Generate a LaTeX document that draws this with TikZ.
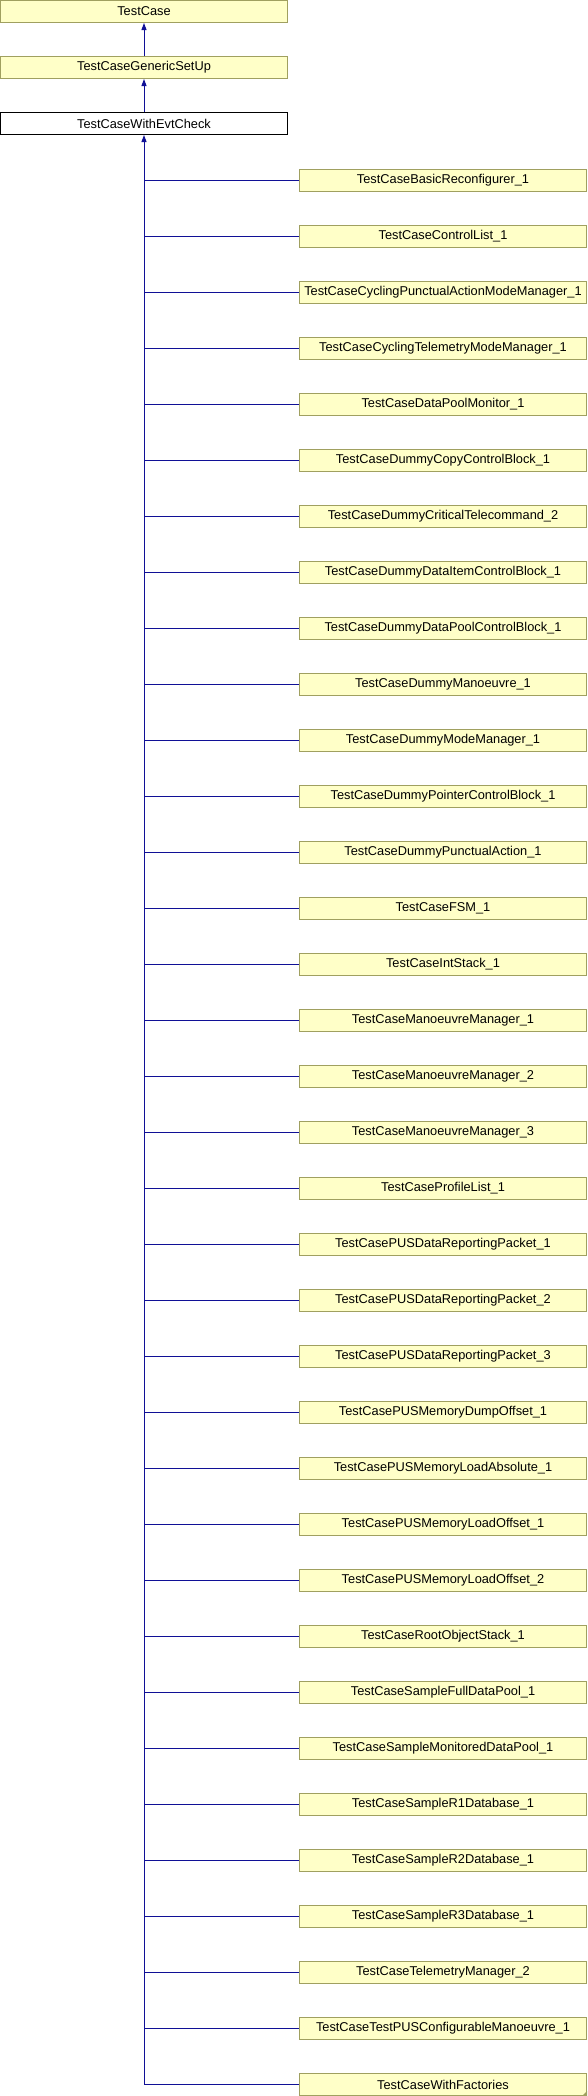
\documentclass[tikz,border=0pt]{standalone}
\usepackage{fontspec}
\setmainfont{Liberation Sans}
\usepackage{tikz}
\usetikzlibrary{arrows.meta}
\definecolor{boxfill}{RGB}{255,255,200}
\definecolor{boxline}{RGB}{160,160,96}
\definecolor{edgeblue}{RGB}{16,16,150}
\tikzset{cls/.style={draw=boxline, fill=boxfill, line width=1pt,
  minimum width=287pt, minimum height=22pt, inner sep=0pt,
  font=\fontsize{12.8}{14}\selectfont}}

\begin{document}
\begin{tikzpicture}[x=1pt, y=-1pt, >={Triangle[length=7pt,width=5pt]},
  edge/.style={draw=edgeblue, line width=1pt},
  cur/.style={cls, draw=black, fill=white}]
  \useasboundingbox (0,0) rectangle (588,2096);
  % base classes
  \node[cls] (tc)  at (144, 11.5)  {TestCase};
  \node[cls] (gsu) at (144, 67.5)  {TestCaseGenericSetUp};
  \node[cur] (evt) at (144, 123.5) {TestCaseWithEvtCheck};
  \draw[edge, ->] (gsu) -- (tc);
  \draw[edge, ->] (evt) -- (gsu);
  % derived classes
  \node[cls] (c1)  at (443, 180.5)  {TestCaseBasicReconfigurer\_1};
  \node[cls] (c2)  at (443, 236.5)  {TestCaseControlList\_1};
  \node[cls] (c3)  at (443, 292.5)  {TestCaseCyclingPunctualActionModeManager\_1};
  \node[cls] (c4)  at (443, 348.5)  {TestCaseCyclingTelemetryModeManager\_1};
  \node[cls] (c5)  at (443, 404.5)  {TestCaseDataPoolMonitor\_1};
  \node[cls] (c6)  at (443, 460.5)  {TestCaseDummyCopyControlBlock\_1};
  \node[cls] (c7)  at (443, 516.5)  {TestCaseDummyCriticalTelecommand\_2};
  \node[cls] (c8)  at (443, 572.5)  {TestCaseDummyDataItemControlBlock\_1};
  \node[cls] (c9)  at (443, 628.5)  {TestCaseDummyDataPoolControlBlock\_1};
  \node[cls] (c10) at (443, 684.5)  {TestCaseDummyManoeuvre\_1};
  \node[cls] (c11) at (443, 740.5)  {TestCaseDummyModeManager\_1};
  \node[cls] (c12) at (443, 796.5)  {TestCaseDummyPointerControlBlock\_1};
  \node[cls] (c13) at (443, 852.5)  {TestCaseDummyPunctualAction\_1};
  \node[cls] (c14) at (443, 908.5)  {TestCaseFSM\_1};
  \node[cls] (c15) at (443, 964.5)  {TestCaseIntStack\_1};
  \node[cls] (c16) at (443, 1020.5) {TestCaseManoeuvreManager\_1};
  \node[cls] (c17) at (443, 1076.5) {TestCaseManoeuvreManager\_2};
  \node[cls] (c18) at (443, 1132.5) {TestCaseManoeuvreManager\_3};
  \node[cls] (c19) at (443, 1188.5) {TestCaseProfileList\_1};
  \node[cls] (c20) at (443, 1244.5) {TestCasePUSDataReportingPacket\_1};
  \node[cls] (c21) at (443, 1300.5) {TestCasePUSDataReportingPacket\_2};
  \node[cls] (c22) at (443, 1356.5) {TestCasePUSDataReportingPacket\_3};
  \node[cls] (c23) at (443, 1412.5) {TestCasePUSMemoryDumpOffset\_1};
  \node[cls] (c24) at (443, 1468.5) {TestCasePUSMemoryLoadAbsolute\_1};
  \node[cls] (c25) at (443, 1524.5) {TestCasePUSMemoryLoadOffset\_1};
  \node[cls] (c26) at (443, 1580.5) {TestCasePUSMemoryLoadOffset\_2};
  \node[cls] (c27) at (443, 1636.5) {TestCaseRootObjectStack\_1};
  \node[cls] (c28) at (443, 1692.5) {TestCaseSampleFullDataPool\_1};
  \node[cls] (c29) at (443, 1748.5) {TestCaseSampleMonitoredDataPool\_1};
  \node[cls] (c30) at (443, 1804.5) {TestCaseSampleR1Database\_1};
  \node[cls] (c31) at (443, 1860.5) {TestCaseSampleR2Database\_1};
  \node[cls] (c32) at (443, 1916.5) {TestCaseSampleR3Database\_1};
  \node[cls] (c33) at (443, 1972.5) {TestCaseTelemetryManager\_2};
  \node[cls] (c34) at (443, 2028.5) {TestCaseTestPUSConfigurableManoeuvre\_1};
  \node[cls] (c35) at (443, 2084.5) {TestCaseWithFactories};
  % folded corner mark
  \fill[boxline] (c35.south east) -- ++(0,-5) -- ++(-5,5) -- cycle;
  % inheritance trunk and branches
  \draw[edge, <-] (evt) |- (c35.west);
  \foreach \i in {1,...,34}
    \draw[edge] (evt.south |- c\i.west) -- (c\i.west);
\end{tikzpicture}
\end{document}
